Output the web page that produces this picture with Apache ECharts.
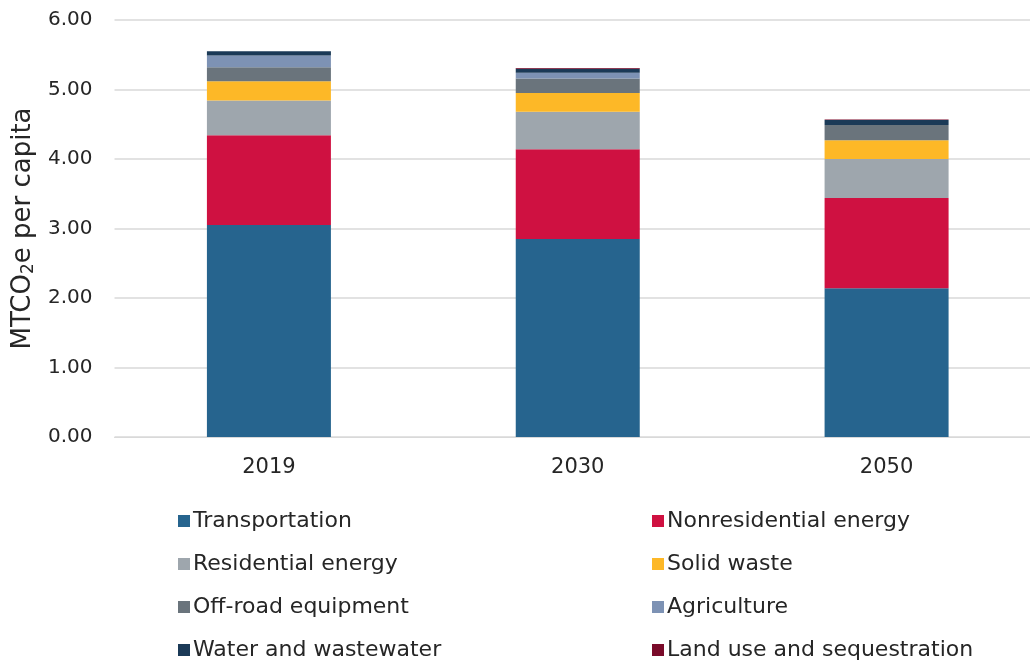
<!DOCTYPE html>
<html><head><meta charset="utf-8">
<script src="https://cdn.jsdelivr.net/npm/echarts@6/dist/echarts.min.js"></script>
<style>html,body{margin:0;padding:0;background:#fff;overflow:hidden}#c{width:1041px;height:664px}</style>
</head><body><div id="c"></div>
<script>
const categories = ['2019', '2030', '2050'];
const transportation = [3.05, 2.85, 2.14];
const nonresidential = [1.29, 1.29, 1.30];
const residential = [0.50, 0.54, 0.56];
const solidWaste = [0.28, 0.27, 0.27];
const offRoad = [0.20, 0.21, 0.22];
const agriculture = [0.17, 0.08, 0.00];
const water = [0.06, 0.06, 0.07];
const landUse = [0.00, 0.01, 0.01];
const yTicks = [0, 1, 2, 3, 4, 5, 6];

const seriesDefs = [
  ['Transportation', transportation, '#26648E'],
  ['Nonresidential energy', nonresidential, '#CF1141'],
  ['Residential energy', residential, '#9EA6AD'],
  ['Solid waste', solidWaste, '#FDB827'],
  ['Off-road equipment', offRoad, '#6A747C'],
  ['Agriculture', agriculture, '#7D92B4'],
  ['Water and wastewater', water, '#1B3A57'],
  ['Land use and sequestration', landUse, '#7A0B2A']
];
const FONT = 'DejaVu Sans';
const TXT = '#262626';
const chart = echarts.init(document.getElementById('c'), null, {renderer: 'canvas'});
const legendCommon = {
  orient: 'vertical', top: 504, height: 200, itemWidth: 12, itemHeight: 12, itemGap: 19,
  icon: 'rect',
  textStyle: {fontFamily: FONT, fontSize: 22, color: TXT, lineHeight: 24, padding: [0,0,0,-2]}
};
chart.setOption({
  animation: false,
  textStyle: {fontFamily: FONT},
  grid: {left: 114.5, right: 0, top: 20, bottom: 227},
  legend: [
    Object.assign({left: 173, data: ['Transportation', 'Residential energy', 'Off-road equipment', 'Water and wastewater']}, legendCommon),
    Object.assign({left: 647, data: ['Nonresidential energy', 'Solid waste', 'Agriculture', 'Land use and sequestration']}, legendCommon)
  ],
  xAxis: {
    type: 'category', data: categories,
    axisLine: {show: true, lineStyle: {color: '#D9D9D9'}},
    axisTick: {show: false},
    axisLabel: {fontFamily: FONT, fontSize: 21, color: TXT, margin: 20}
  },
  yAxis: {
    type: 'value', min: yTicks[0], max: yTicks[yTicks.length - 1], interval: 1,
    name: '{a|MTCO}{s|2}{a|e per capita}',
    nameLocation: 'middle', nameGap: 72, nameRotate: 90,
    nameTextStyle: {
      rich: {
        a: {fontFamily: FONT, fontSize: 26, color: TXT},
        s: {fontFamily: FONT, fontSize: 17, color: TXT, padding: [10, 0, 0, 0]}
      }
    },
    axisLabel: {fontFamily: FONT, fontSize: 20, color: TXT, margin: 22,
      formatter: v => v.toFixed(2)},
    splitLine: {lineStyle: {color: '#D9D9D9', width: 1.5}},
    axisLine: {show: false}, axisTick: {show: false}
  },
  series: seriesDefs.map(([name, data, color]) => ({
    name, type: 'bar', stack: 'total', data, barWidth: 124,
    itemStyle: {color}
  }))
});
</script></body></html>
